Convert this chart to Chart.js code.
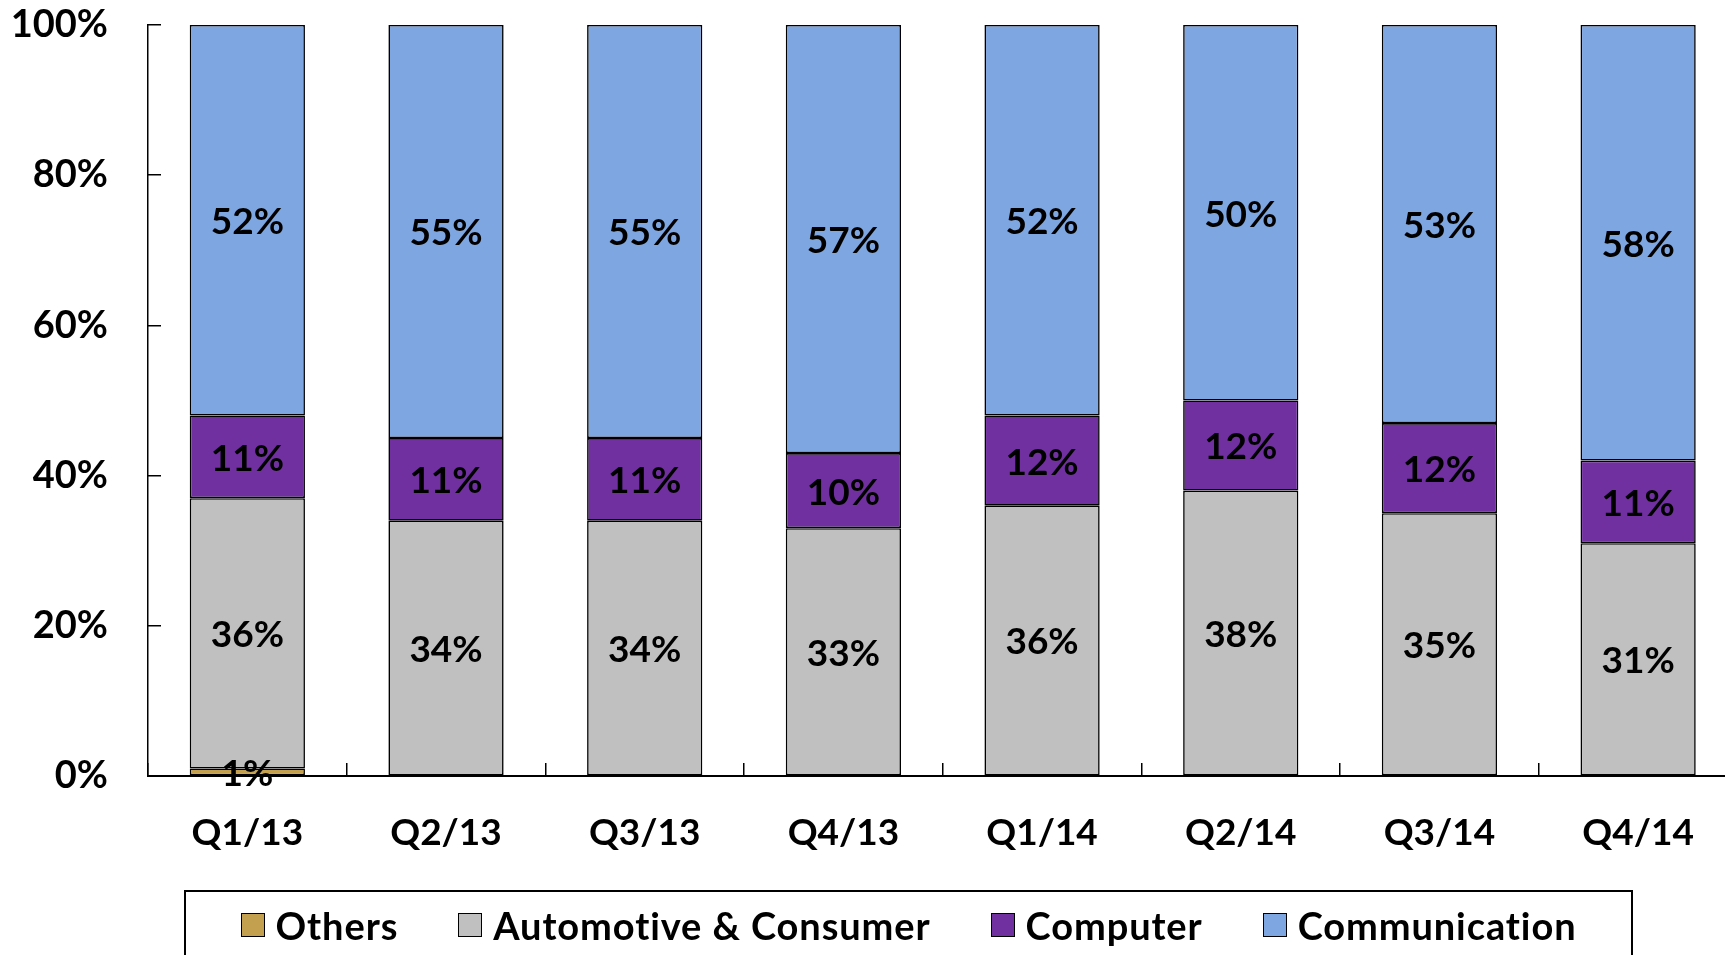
<!DOCTYPE html>
<html>
<head>
<meta charset="utf-8">
<script src="https://cdn.jsdelivr.net/npm/chart.js@4/dist/chart.umd.min.js"></script>
<style>
  html, body { margin: 0; padding: 0; background: #fff; overflow: hidden; width: 1725px; height: 955px; }
  #wrap { position: absolute; left: 0; top: 0; width: 1742px; height: 955px; }
  #legend {
    position: absolute; left: 184px; top: 890px; width: 1449px; height: 100px;
    border: 2px solid #000; box-sizing: border-box;
    display: flex; justify-content: center; align-items: flex-start;
    font-family: Lato, sans-serif; font-weight: bold; font-size: 38px; color: #000;
    letter-spacing: 0.9px; font-variant-ligatures: none;
  }
  .item { display: flex; align-items: center; margin: 0 30px; height: 46px; margin-top: 10px; }
  .sw { width: 24px; height: 24px; box-sizing: border-box; border: 1.5px solid #000; margin-right: 11px; }
</style>
</head>
<body>
<div id="wrap"><canvas id="c"></canvas></div>
<div id="legend"></div>
<script>
const categories = ['Q1/13', 'Q2/13', 'Q3/13', 'Q4/13', 'Q1/14', 'Q2/14', 'Q3/14', 'Q4/14'];
const others        = [1, null, null, null, null, null, null, null];
const automotive    = [36, 34, 34, 33, 36, 38, 35, 31];
const computer      = [11, 11, 11, 10, 12, 12, 12, 11];
const communication = [52, 55, 55, 57, 52, 50, 53, 58];
const seriesNames  = ['Others', 'Automotive & Consumer', 'Computer', 'Communication'];
const seriesColors = ['#C3A04F', '#C0C0C0', '#7030A0', '#7EA6E0'];
const yTicks = [0, 20, 40, 60, 80, 100];

const FONT = 'Lato, sans-serif';
const seriesData = [others, automotive, computer, communication];

const labelPlugin = {
  id: 'segLabels',
  afterDatasetsDraw(chart) {
    const ctx = chart.ctx;
    ctx.save();
    ctx.font = 'bold 37px ' + FONT;
    ctx.fillStyle = '#000';
    ctx.textAlign = 'center';
    ctx.textBaseline = 'middle';
    chart.data.datasets.forEach((ds, di) => {
      const meta = chart.getDatasetMeta(di);
      meta.data.forEach((el, i) => {
        const v = ds.data[i];
        if (v === null || v === undefined) return;
        const p = el.getProps(['x', 'y', 'base'], true);
        ctx.fillText(v + '%', p.x, (p.y + p.base) / 2 + 2);
      });
    });
    ctx.restore();
  }
};

const chart = new Chart(document.getElementById('c'), {
  type: 'bar',
  data: {
    labels: categories,
    datasets: seriesData.map((d, i) => ({
      label: seriesNames[i],
      data: d,
      backgroundColor: seriesColors[i],
      borderColor: '#000',
      borderWidth: 1.6,
      borderSkipped: false,
      categoryPercentage: 1,
      barPercentage: 0.58
    }))
  },
  options: {
    responsive: true,
    maintainAspectRatio: false,
    animation: false,
    layout: { padding: { left: 0, right: 2, top: 25, bottom: 99 } },
    plugins: { legend: { display: false }, tooltip: { enabled: false } },
    scales: {
      x: {
        stacked: true,
        afterFit: s => { s.height = 80; },
        border: { display: true, color: '#000', width: 2 },
        grid: { display: true, drawOnChartArea: false, drawTicks: true, tickLength: -13, color: '#000', lineWidth: 1.5, offset: true },
        ticks: { color: '#000', font: { family: FONT, weight: 'bold', size: 37 }, padding: 48, maxRotation: 0 }
      },
      y: {
        stacked: true,
        min: 0, max: 100,
        afterFit: s => { s.width = 148; s.paddingTop = 0; s.paddingBottom = 0; },
        afterBuildTicks: s => { s.ticks = yTicks.map(v => ({ value: v })); },
        border: { display: true, color: '#000', width: 1.5 },
        grid: { display: true, drawOnChartArea: false, drawTicks: true, tickLength: -13, color: '#000', lineWidth: 1.5 },
        ticks: { color: '#000', font: { family: FONT, weight: 'bold', size: 38 }, padding: 53, callback: v => v + '%' }
      }
    }
  },
  plugins: [labelPlugin]
});

const lg = document.getElementById('legend');
chart.data.datasets.forEach(ds => {
  const it = document.createElement('div');
  it.className = 'item';
  const sw = document.createElement('div');
  sw.className = 'sw';
  sw.style.background = ds.backgroundColor;
  const tx = document.createElement('span');
  tx.textContent = ds.label;
  it.appendChild(sw); it.appendChild(tx);
  lg.appendChild(it);
});
</script>
</body>
</html>
